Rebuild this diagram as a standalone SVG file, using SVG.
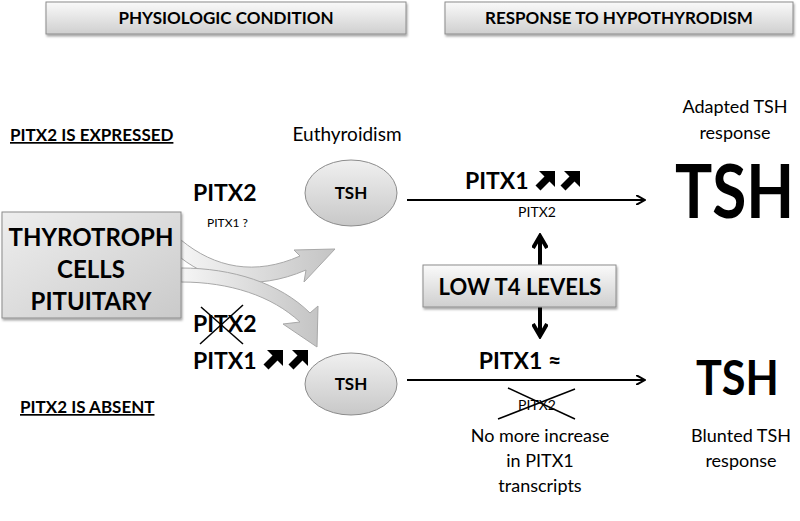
<svg xmlns="http://www.w3.org/2000/svg" width="800" height="521" viewBox="0 0 800 521">
<style>
text{font-family:Lato,"Open Sans","Liberation Sans",sans-serif;fill:#000}
.b{font-weight:bold}
.hdr{font-size:17px;font-weight:bold;text-anchor:middle}
.box{stroke:#8c8c8c;stroke-width:1;filter:url(#sh)}
.ln{stroke:#000;stroke-width:2;fill:none}
.x{stroke:#000;stroke-width:1.5}
.c{text-anchor:middle}
</style>
<defs>
<linearGradient id="gh" x1="0" y1="0" x2="0" y2="1"><stop offset="0" stop-color="#fafafa"/><stop offset="1" stop-color="#cfcfcf"/></linearGradient>
<linearGradient id="gb" x1="0" y1="0" x2="1" y2="1"><stop offset="0" stop-color="#eeeeee"/><stop offset="1" stop-color="#cacaca"/></linearGradient>
<linearGradient id="ge" x1="0" y1="0" x2="0" y2="1"><stop offset="0" stop-color="#f0f0f0"/><stop offset="1" stop-color="#c8c8c8"/></linearGradient>
<linearGradient id="ga" x1="0" y1="0" x2="1" y2="0"><stop offset="0" stop-color="#f5f5f5"/><stop offset="1" stop-color="#c4c4c4"/></linearGradient>
<filter id="sh" x="-10%" y="-10%" width="120%" height="140%"><feDropShadow dx="1" dy="2" stdDeviation="1.2" flood-color="#000" flood-opacity="0.35"/></filter>
<marker id="ah" markerWidth="10" markerHeight="10" refX="8" refY="5" orient="auto" markerUnits="userSpaceOnUse"><path d="M0,0 L9,5 L0,10" fill="none" stroke="#000" stroke-width="2"/></marker>
<marker id="bh" markerWidth="16" markerHeight="16" refX="12" refY="8" orient="auto" markerUnits="userSpaceOnUse"><path d="M1,1 L13,8 L1,15" fill="none" stroke="#000" stroke-width="4"/></marker>
<g id="dbl"><path d="M3,17 L13,7" stroke="#000" stroke-width="7"/><polygon points="4,0 20,0 20,16"/></g>
</defs>

<g id="hdr1"><rect class="box" x="46" y="2" width="360" height="32" fill="url(#gh)"/><text class="hdr" x="226" y="24">PHYSIOLOGIC CONDITION</text></g>
<g id="hdr2"><rect class="box" x="445" y="2" width="348" height="32" fill="url(#gh)"/><text class="hdr" x="619" y="24">RESPONSE TO HYPOTHYRODISM</text></g>

<g id="lbl-expressed"><text class="b" x="10" y="141" font-size="17" text-decoration="underline">PITX2 IS EXPRESSED</text></g>
<g id="lbl-absent"><text class="b" x="20" y="413" font-size="17" text-decoration="underline">PITX2 IS ABSENT</text></g>
<g id="lbl-euthyroidism"><text class="c" x="347" y="141" font-size="19">Euthyroidism</text></g>
<g id="lbl-adapted"><text class="c" x="735" y="113" font-size="18">Adapted TSH</text><text class="c" x="735" y="139" font-size="18">response</text></g>
<g id="lbl-blunted"><text class="c" x="741" y="442" font-size="18">Blunted TSH</text><text class="c" x="741" y="467" font-size="18">response</text></g>
<g id="lbl-nomore"><text class="c" x="540" y="442" font-size="18">No more increase</text><text class="c" x="540" y="467" font-size="18">in PITX1</text><text class="c" x="540" y="492" font-size="18">transcripts</text></g>

<g id="connectors">
<path d="M181,240 C215,268 255,276 300,256 L294,250 L335,249 L304,282 L306,270 C255,292 212,282 181,258 Z" fill="url(#ga)" stroke="#a8a8a8" stroke-width="1"/>
<path d="M181,282 C230,282 272,296 300,322 L283,324 L317,347 L318,306 L310,313 C280,283 232,268 181,268 Z" fill="url(#ga)" stroke="#a8a8a8" stroke-width="1"/>
<line class="ln" x1="407" y1="200" x2="644" y2="200" marker-end="url(#ah)"/>
<line class="ln" x1="407" y1="380" x2="644" y2="380" marker-end="url(#ah)"/>
<line x1="540" y1="265" x2="540" y2="237" stroke="#000" stroke-width="4" marker-end="url(#bh)"/>
<line x1="540" y1="307" x2="540" y2="335" stroke="#000" stroke-width="4" marker-end="url(#bh)"/>
</g>

<g id="thyrotroph"><rect class="box" x="2" y="212" width="179" height="106" fill="url(#gb)"/>
<text class="b c" x="91" y="246" font-size="24">THYROTROPH</text>
<text class="b c" x="91" y="278" font-size="24">CELLS</text>
<text class="b c" x="91" y="310" font-size="24">PITUITARY</text></g>

<g id="tsh-up"><ellipse cx="351" cy="193" rx="46" ry="33" fill="url(#ge)" stroke="#8c8c8c" stroke-width="1"/><text class="b c" x="351" y="199" font-size="17">TSH</text></g>
<g id="tsh-down"><ellipse cx="351" cy="384" rx="46" ry="31" fill="url(#ge)" stroke="#8c8c8c" stroke-width="1"/><text class="b c" x="351" y="390" font-size="17">TSH</text></g>

<g id="low-t4"><rect class="box" x="423" y="265" width="193" height="42" fill="url(#gh)"/><text class="b c" x="520" y="295" font-size="22">LOW T4 LEVELS</text></g>

<g id="upper-labels">
<text class="b" x="465" y="189" font-size="23">PITX1</text>
<use href="#dbl" x="535" y="171"/><use href="#dbl" x="560" y="171"/>
<text class="c" x="537" y="217" font-size="14">PITX2</text>
<text class="b" x="193" y="201" font-size="23">PITX2</text>
<text x="207" y="227" font-size="12">PITX1 ?</text>
</g>

<g id="lower-labels">
<text class="b" x="193" y="332" font-size="23">PITX2</text>
<line class="x" x1="201" y1="307" x2="243" y2="344"/><line class="x" x1="243" y1="305" x2="200" y2="344"/>
<text class="b" x="193" y="369" font-size="23">PITX1</text>
<use href="#dbl" x="263" y="350"/><use href="#dbl" x="288" y="350"/>
<text class="b c" x="520" y="369" font-size="23">PITX1 ≈</text>
<text class="c" x="537" y="410" font-size="14">PITX2</text>
<line class="x" x1="508" y1="388" x2="575" y2="419"/><line class="x" x1="498" y1="419" x2="575" y2="389"/>
</g>

<g id="tsh-big-up"><text class="b" transform="translate(675,218) scale(0.84,1)" font-size="74">TSH</text></g>
<g id="tsh-big-down"><text class="b" transform="translate(696,395) scale(0.92,1)" font-size="47">TSH</text></g>
</svg>
